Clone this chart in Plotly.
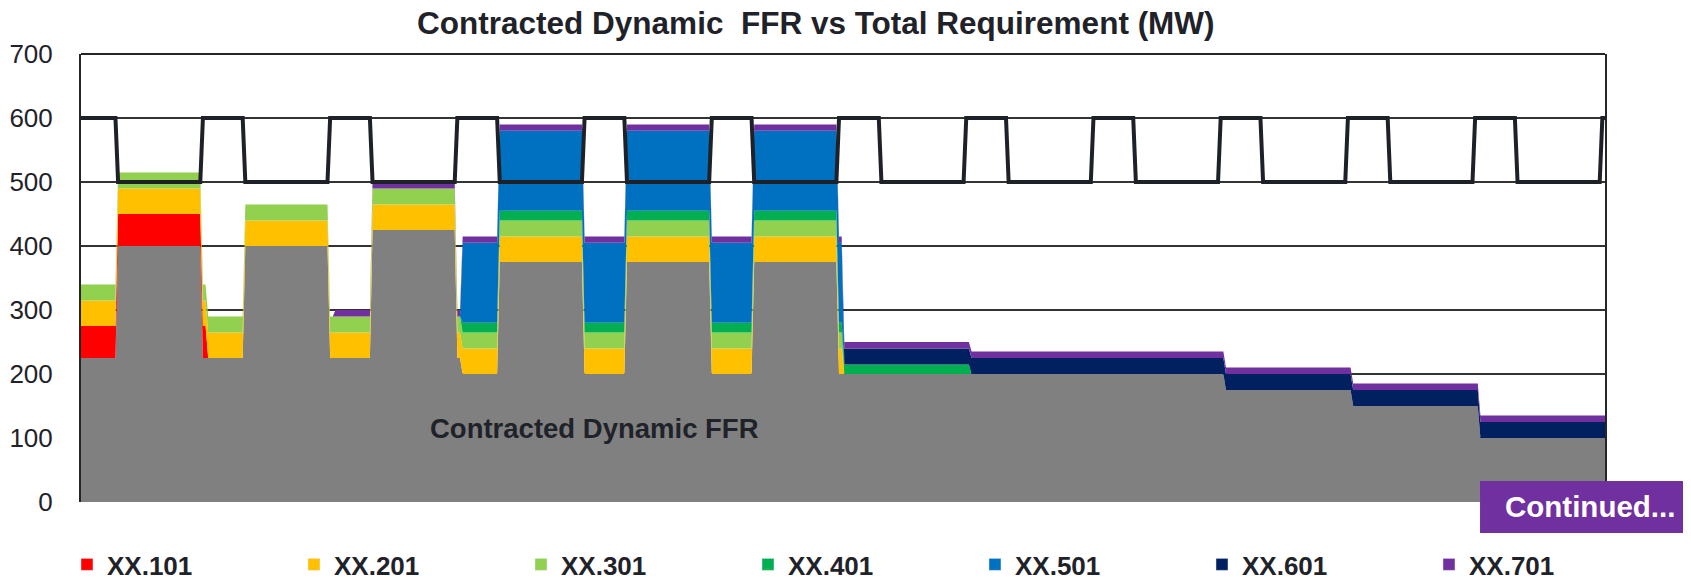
"""
Contracted Dynamic FFR vs Total Requirement - stacked area by unit.
"""

import plotly.graph_objects as go

# Half-hour settlement periods in each block of the day
PTS_MORNING = 14   # 00:00-06:30
PTS_DAY = 32       # 07:00-22:30
PTS_LATE = 2       # 23:00-23:30 (same contract as the morning block)

# Total requirement (MW), per day
REQ_NIGHT = [600, 600, 600, 600, 600, 600, 600, 600, 600, 600, 600, 600]
REQ_DAY = [500, 500, 500, 500, 500, 500, 500, 500, 500, 500, 500, 500]

# Contracted Dynamic FFR base (grey), per day
BASE_NIGHT = [225, 225, 225, 200, 200, 200, 200, 200, 200, 175, 150, 100]
BASE_DAY = [400, 400, 425, 375, 375, 375, 200, 200, 200, 175, 150, 100]

# Units, per day (MW)
XX101 = [50, 0, 0, 0, 0, 0, 0, 0, 0, 0, 0, 0]
XX201 = [40, 40, 40, 40, 40, 40, 0, 0, 0, 0, 0, 0]
XX301 = [25, 25, 25, 25, 25, 25, 0, 0, 0, 0, 0, 0]
XX401 = [0, 0, 0, 15, 15, 15, 15, 0, 0, 0, 0, 0]
XX501 = [0, 0, 0, 125, 125, 125, 0, 0, 0, 0, 0, 0]
XX601 = [0, 0, 0, 0, 0, 0, 25, 25, 25, 25, 25, 25]
XX701 = [0, 0, 10, 10, 10, 10, 10, 10, 10, 10, 10, 10]

UNITS = ["XX.101", "XX.201", "XX.301", "XX.401", "XX.501", "XX.601", "XX.701"]
UNIT_VALUES = [XX101, XX201, XX301, XX401, XX501, XX601, XX701]
UNIT_COLORS = ["#FF0000", "#FFC000", "#92D050", "#00B050", "#0070C0", "#002060", "#7030A0"]

Y_TICKS = [0, 100, 200, 300, 400, 500, 600, 700]

TEXT = "#1f2329"
FONT = "Liberation Sans, Arial, sans-serif"


def expand(night, day):
    """Spread per-day block values over half-hour periods."""
    out = []
    for n, d in zip(night, day):
        out += [n] * PTS_MORNING + [d] * PTS_DAY + [n] * PTS_LATE
    return out


requirement = expand(REQ_NIGHT, REQ_DAY)
periods = list(range(len(requirement)))

fig = go.Figure()

fig.add_trace(go.Scatter(
    x=periods,
    y=expand(BASE_NIGHT, BASE_DAY),
    name="Contracted Dynamic FFR",
    stackgroup="ffr",
    mode="lines",
    line=dict(width=0),
    fillcolor="#808080",
    showlegend=False,
))

for nome, vals, cor in zip(UNITS, UNIT_VALUES, UNIT_COLORS):
    fig.add_trace(go.Scatter(
        x=periods,
        y=expand(vals, vals),
        name=nome,
        stackgroup="ffr",
        mode="lines",
        line=dict(width=0, color=cor),
        fillcolor=cor,
        legendgroup=nome,
        showlegend=False,
    ))

fig.add_trace(go.Scatter(
    x=periods,
    y=requirement,
    name="Total Requirement",
    mode="lines",
    line=dict(color="#1e2228", width=4),
    showlegend=False,
))

# Square legend keys
for nome, cor in zip(UNITS, UNIT_COLORS):
    fig.add_trace(go.Bar(
        x=[None], y=[None],
        name=nome,
        marker_color=cor,
        legendgroup=nome,
    ))

fig.add_annotation(
    text="Contracted Dynamic FFR",
    xref="paper", yref="paper",
    x=0.337, y=0.163,
    xanchor="center", yanchor="middle",
    showarrow=False,
    font=dict(size=27.5, color=TEXT, family=FONT, weight="bold"),
)

# top border of the plot frame
fig.add_shape(
    type="line",
    xref="paper", yref="paper",
    x0=0, x1=1, y0=1, y1=1,
    line=dict(color="#262626", width=2),
)

# "Continued..." tag
fig.add_shape(
    type="rect",
    xref="paper", yref="paper",
    x0=0.918, x1=1.06, y0=-0.069, y1=0.047,
    fillcolor="#7030A0",
    line=dict(width=0),
    layer="above",
)
fig.add_annotation(
    text="Continued...",
    xref="paper", yref="paper",
    x=0.990, y=-0.011,
    xanchor="center", yanchor="middle",
    showarrow=False,
    font=dict(size=29.5, color="#FFFFFF", family=FONT, weight="bold"),
)

# the page adds an 8px body margin, so the figure is 8px smaller
fig.update_layout(
    width=1683,
    height=569,
    paper_bgcolor="#FFFFFF",
    plot_bgcolor="#FFFFFF",
    font=dict(family=FONT, color=TEXT),
    margin=dict(l=73, r=86, t=46, b=75, autoexpand=False),
    title=dict(
        text="Contracted Dynamic\u00a0 FFR vs Total Requirement (MW)",
        x=0.480, xref="container", xanchor="center",
        y=0.9736, yref="container", yanchor="middle",
        font=dict(size=31.5, color=TEXT, family=FONT, weight="bold"),
    ),
    xaxis=dict(
        range=[0, len(periods) - 1],
        showgrid=False,
        zeroline=False,
        showticklabels=False,
        showline=False,
        ticks="",
    ),
    yaxis=dict(
        range=[0, 700],
        tickvals=Y_TICKS,
        showgrid=True,
        gridcolor="#333333",
        gridwidth=1.5,
        zeroline=False,
        showline=True,
        mirror=True,
        linecolor="#262626",
        linewidth=2,
        ticks="",
        ticklabelstandoff=21,
        tickfont=dict(size=26, color=TEXT, family=FONT),
    ),
    legend=dict(
        orientation="h",
        x=-0.0092, xanchor="left",
        y=-0.087, yanchor="top",
        entrywidth=182,
        entrywidthmode="pixels",
        bgcolor="rgba(0,0,0,0)",
        font=dict(size=26, color=TEXT, family=FONT, weight="bold"),
        traceorder="normal",
    ),
    showlegend=True,
)

fig.write_html("out.html")
